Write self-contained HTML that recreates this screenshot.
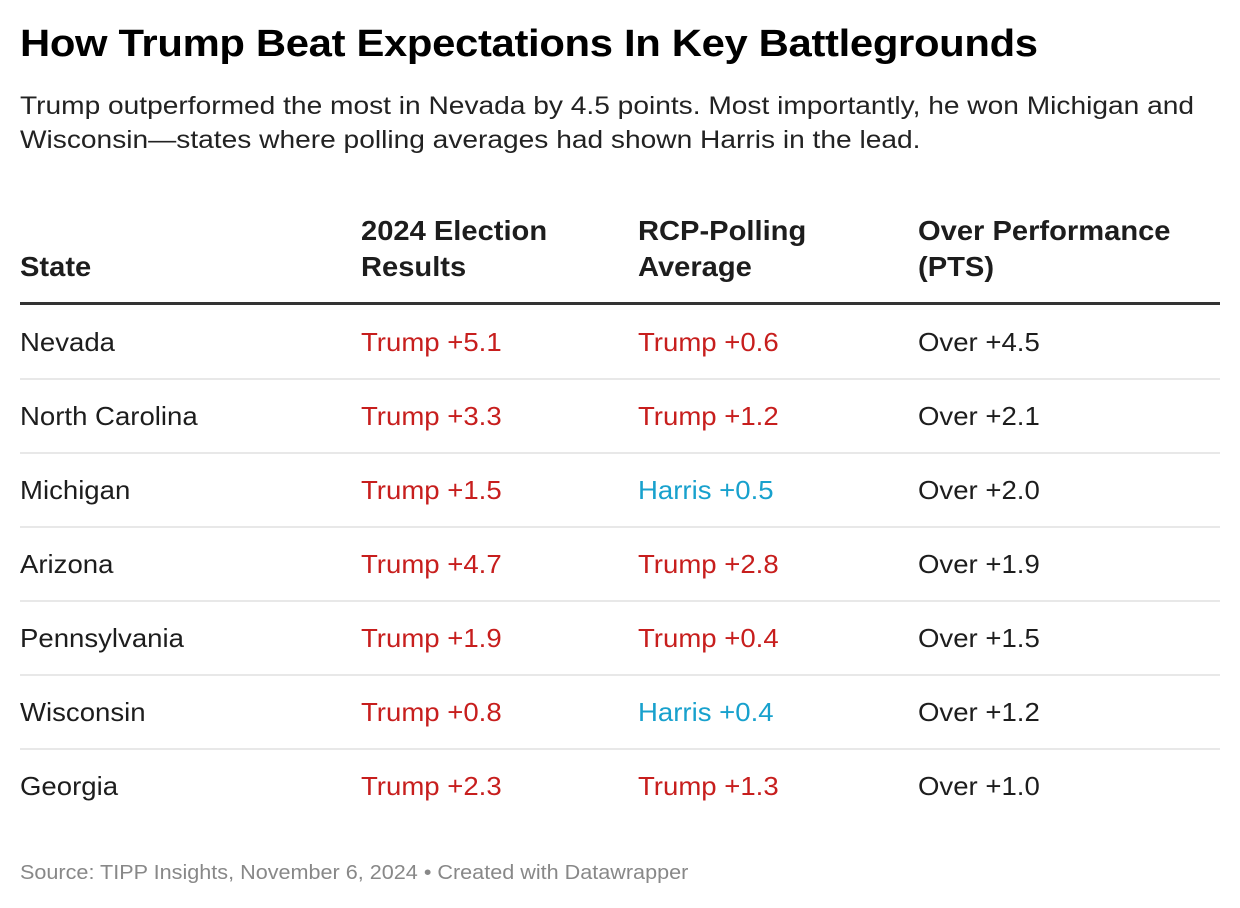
<!DOCTYPE html>
<html><head><meta charset="utf-8">
<style>
body{margin:0;width:1240px;height:908px;background:#fff;font-family:"Liberation Sans",sans-serif;color:#1d1d1d;position:relative;overflow:hidden}
.abs{position:absolute;white-space:nowrap;transform-origin:0 50%}
#title{left:20px;top:23px;font-size:38px;font-weight:bold;color:#000;letter-spacing:-0.3px;transform:scaleX(1.10)}
#sub{left:20px;top:89px;font-size:25px;line-height:34px;color:#222;transform:scaleX(1.125)}
.th{font-size:28px;font-weight:bold;line-height:36px;color:#1d1d1d;transform:scaleX(1.04)}
.cell{font-size:26px;line-height:30px;transform:scaleX(1.06)}
.red{color:#c71e1d}.blue{color:#18a1cd}
.sep{position:absolute;left:20px;width:1200px;height:2px;background:#e8e8e8}
#foot{left:20px;top:862px;font-size:20px;color:#888;transform:scaleX(1.08)}
</style></head><body>
<div class="abs" id="title">How Trump Beat Expectations In Key Battlegrounds</div>
<div class="abs" id="sub">Trump outperformed the most in Nevada by 4.5 points. Most importantly, he won Michigan and<br>Wisconsin—states where polling averages had shown Harris in the lead.</div>
<div class="abs th" style="left:20px;top:249px">State</div>
<div class="abs th" style="left:361px;top:213px">2024 Election<br>Results</div>
<div class="abs th" style="left:638px;top:213px">RCP-Polling<br>Average</div>
<div class="abs th" style="left:918px;top:213px">Over Performance<br>(PTS)</div>
<div class="abs" style="left:20px;top:302px;width:1200px;height:3px;background:#333"></div>
<div id="rows"></div>
<div class="abs" id="foot">Source: TIPP Insights, November 6, 2024 • Created with Datawrapper</div>
<script>
const states=["Nevada","North Carolina","Michigan","Arizona","Pennsylvania","Wisconsin","Georgia"];
const results=["Trump +5.1","Trump +3.3","Trump +1.5","Trump +4.7","Trump +1.9","Trump +0.8","Trump +2.3"];
const polling=["Trump +0.6","Trump +1.2","Harris +0.5","Trump +2.8","Trump +0.4","Harris +0.4","Trump +1.3"];
const over=["Over +4.5","Over +2.1","Over +2.0","Over +1.9","Over +1.5","Over +1.2","Over +1.0"];
const root=document.getElementById('rows');
function cls(v){return v.indexOf('Harris')===0?'blue':'red';}
states.forEach((s,i)=>{
  const cy=342+i*74;
  const cols=[[20,s,''],[361,results[i],cls(results[i])],[638,polling[i],cls(polling[i])],[918,over[i],'']];
  const names=['cell-state','cell-result','cell-polling','cell-over'];
  cols.forEach((c,j)=>{
    const d=document.createElement('div');
    d.className='abs cell '+c[2];
    d.style.left=c[0]+'px';d.style.top=(cy-15)+'px';
    d.textContent=c[1];
    
    
    root.appendChild(d);
  });
  if(i<states.length-1){
    const l=document.createElement('div');
    l.className='sep';l.style.top=(cy+36)+'px';
    
    
    root.appendChild(l);
  }
});
</script>
</body></html>
